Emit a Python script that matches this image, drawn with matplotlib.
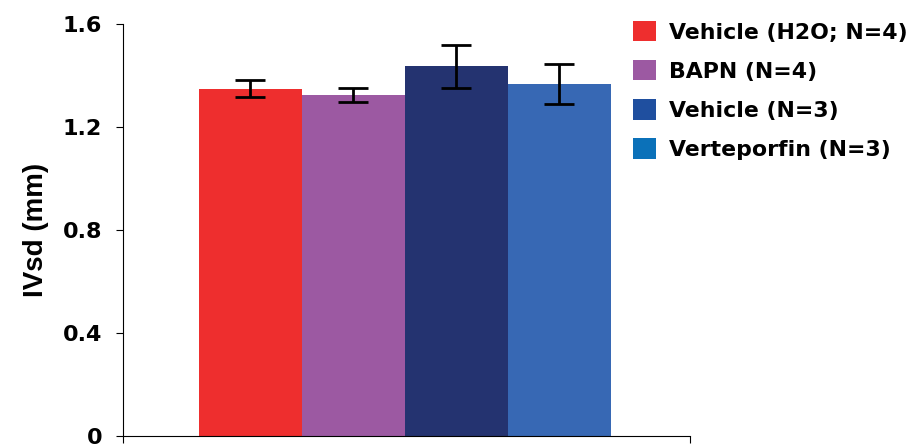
import matplotlib
matplotlib.use("Agg")
import matplotlib.pyplot as plt
from matplotlib.patches import Patch

plt.rcParams["font.family"] = ["DejaVu Sans"]
plt.rcParams["font.weight"] = "bold"

# group labels and IVsd values
groups = ["Vehicle (H2O; N=4)", "BAPN (N=4)", "Vehicle (N=3)", "Verteporfin (N=3)"]
ivsd = [1.348, 1.325, 1.435, 1.368]
sem = [0.033, 0.027, 0.082, 0.078]
bar_colors = ["#ee2e2e", "#9c59a2", "#243370", "#3768b4"]
legend_colors = ["#ee2e2e", "#9c59a2", "#1f4f9f", "#0b71b9"]
yticks = [0, 0.4, 0.8, 1.2, 1.6]
ytick_labels = ["0", "0.4", "0.8", "1.2", "1.6"]

fig = plt.figure(figsize=(9.09, 4.48), dpi=100)
ax = fig.add_axes([123 / 909, 12 / 448, 567 / 909, 412 / 448])

x = list(range(len(groups)))
ax.bar(x, ivsd, width=1.0, color=bar_colors, edgecolor="none")
ax.errorbar(x, ivsd, yerr=sem, fmt="none", ecolor="black",
            elinewidth=2.0, capsize=11, capthick=2.0)

ax.set_xlim(-1.234, 4.27)
ax.set_ylim(0, 1.6)
ax.set_yticks(yticks)
ax.set_yticklabels(ytick_labels, fontsize=16, fontweight="bold")
ax.set_xticks([-1.234, 4.27])
ax.set_xticklabels([])
ax.tick_params(axis="both", direction="out", length=5, width=0.8, pad=10)
for side in ("top", "right"):
    ax.spines[side].set_visible(False)
for side in ("left", "bottom"):
    ax.spines[side].set_linewidth(0.8)
ax.set_ylabel("IVsd (mm)", fontsize=20, fontweight="bold", labelpad=10,
              family=["Liberation Sans", "DejaVu Sans"])

handles = [Patch(facecolor=c, edgecolor="none") for c in legend_colors]
fig.legend(handles, groups, loc="upper left", bbox_to_anchor=(633 / 909, 1 - 21 / 448),
           frameon=False, prop={"size": 15.8, "weight": "bold"},
           handlelength=1.04, handleheight=1.04, handletextpad=0.62,
           labelspacing=0.8, borderaxespad=0, borderpad=0)

fig.savefig("out.png", dpi=100)
